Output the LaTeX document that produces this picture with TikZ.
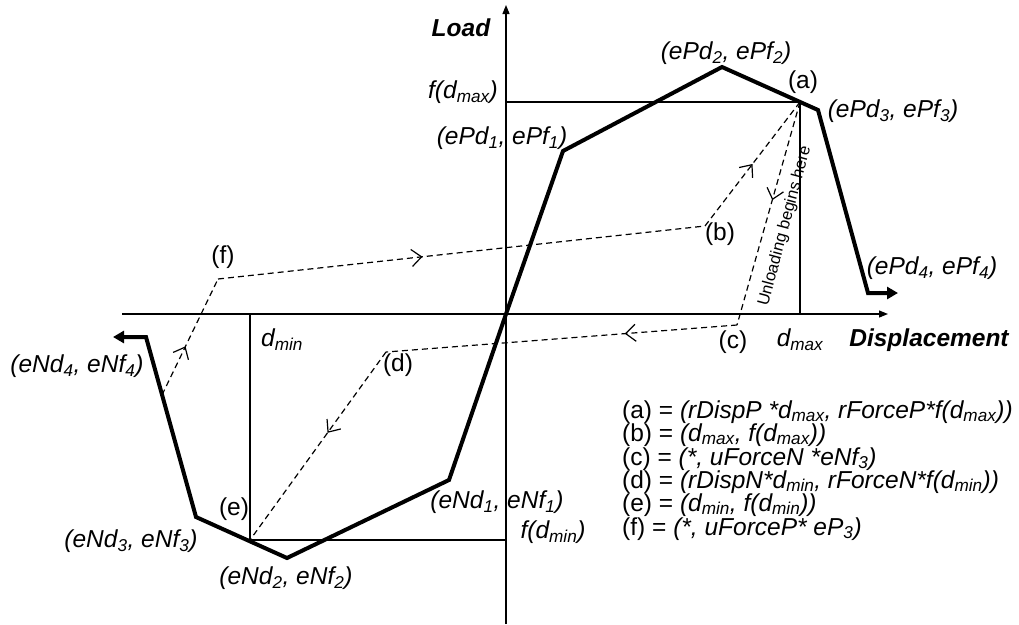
\documentclass[tikz,border=0pt]{standalone}
\usepackage{fontspec}
\setmainfont{Liberation Sans}
\usetikzlibrary{arrows.meta, decorations.markings, positioning}

\tikzset{
  axis/.style={line width=1.2pt, -{Triangle[length=9pt,width=7pt]}},
  guide/.style={line width=1.2pt},
  backbone/.style={line width=4pt, line join=miter,
    {Triangle[length=11pt,width=12pt]}-{Triangle[length=11pt,width=12pt]}},
  cyclepath/.style={line width=1.2pt, dash pattern=on 6pt off 4pt},
  midarrow/.style={postaction={decorate}, decoration={markings,
    mark=at position #1 with {\arrow{Straight Barb[length=10pt,width=17pt,line width=1.2pt]}}}},
  lbl/.style={font=\fontsize{24.5}{24.5}\selectfont\itshape, inner sep=0pt},
  tag/.style={font=\fontsize{24.5}{24.5}\selectfont, inner sep=0pt},
  axlbl/.style={font=\fontsize{24.5}{24.5}\selectfont\bfseries\itshape, inner sep=0pt},
}

\begin{document}
\begin{tikzpicture}[x=1pt, y=-1pt]
	\useasboundingbox[fill=white] (0,0) rectangle (1019,624);
	% axes
	\coordinate (ybot) at (506,624);
	\coordinate (ytop) at (506,5);
	\coordinate (xleft) at (122,314);
	\coordinate (xright) at (888,314);
	\draw[axis] (ybot) -- (ytop);
	\draw[axis] (xleft) -- (xright);
	% backbone points
	\coordinate (N4tip) at (113,337);
	\coordinate (N4) at (146,337);
	\coordinate (N3) at (196,517);
	\coordinate (N2) at (287,558);
	\coordinate (N1) at (449,480);
	\coordinate (O) at (506,314);
	\coordinate (P1) at (563,151);
	\coordinate (P2) at (722,67);
	\coordinate (P3) at (818,110);
	\coordinate (P4) at (868,293);
	\coordinate (P4tip) at (898,293);
	% cycle points
	\coordinate (A) at (800,102);
	\coordinate (B) at (705,226);
	\coordinate (C) at (737,325);
	\coordinate (D) at (386,352);
	\coordinate (E) at (250,540);
	\coordinate (F) at (218,279);
	\coordinate (S) at (162,395);
	\coordinate (fmax) at (506,102);
	\coordinate (dmax) at (800,314);
	\coordinate (dmin) at (250,314);
	\coordinate (fmin) at (506,540);
	% guide lines
	\draw[guide] (fmax) -- (A) -- (dmax);
	\draw[guide] (dmin) -- (E) -- (fmin);
	% backbone
	\draw[backbone] (N4tip) -- (N4) -- (N3) -- (N2) -- (N1) -- (O) -- (P1) -- (P2) -- (P3) -- (P4) -- (P4tip);
	% unloading / reloading path
	\draw[cyclepath, midarrow=0.44] (A) -- (C);
	\draw[cyclepath, midarrow=0.32] (C) -- (D);
	\draw[cyclepath, midarrow=0.43] (D) -- (E);
	\draw[cyclepath, midarrow=0.42] (S) -- (F);
	\draw[cyclepath, midarrow=0.42] (F) -- (B);
	\draw[cyclepath, midarrow=0.5] (B) -- (A);
	% labels
	\node[axlbl] (load) at (461,28) {Load};
	\node[axlbl] (displbl) at (929,340) {Displacement};
	\node[lbl] (fdmaxlbl) at (463,92) {f(d\textsubscript{max})};
	\node[lbl] (fdminlbl) at (553,532) {f(d\textsubscript{min})};
	\node[lbl] (dmaxlbl) at (800,340) {d\textsubscript{max}};
	\node[lbl] (dminlbl) at (282,340) {d\textsubscript{min}};
	\node[lbl] (p1lbl) at (502,138) {(ePd\textsubscript{1}, ePf\textsubscript{1})};
	\node[lbl] (p2lbl) at (726,53) {(ePd\textsubscript{2}, ePf\textsubscript{2})};
	\node[lbl] (p3lbl) at (893,111) {(ePd\textsubscript{3}, ePf\textsubscript{3})};
	\node[lbl] (p4lbl) at (932,268) {(ePd\textsubscript{4}, ePf\textsubscript{4})};
	\node[lbl] (n1lbl) at (497,502) {(eNd\textsubscript{1}, eNf\textsubscript{1})};
	\node[lbl] (n2lbl) at (286,578) {(eNd\textsubscript{2}, eNf\textsubscript{2})};
	\node[lbl] (n3lbl) at (131,541) {(eNd\textsubscript{3}, eNf\textsubscript{3})};
	\node[lbl] (n4lbl) at (77,366) {(eNd\textsubscript{4}, eNf\textsubscript{4})};
	\node[tag] (alab) at (803,82) {(a)};
	\node[tag] (blab) at (720,234) {(b)};
	\node[tag] (clab) at (733,342) {(c)};
	\node[tag] (dlab) at (398,365) {(d)};
	\node[tag] (elab) at (234,509) {(e)};
	\node[tag] (flab) at (223,257) {(f)};
	\node[font=\fontsize{16.5}{16.5}\selectfont, inner sep=0pt, rotate=75] (unload) at (785,226) {Unloading begins here};
	% legend
	\node[tag, anchor=base west] (leg1) at (622,418) {(a) = \textit{(rDispP *d\textsubscript{max}, rForceP*f(d\textsubscript{max}))}};
	\node[tag, anchor=base west] (leg2) at (622,441) {(b) = \textit{(d\textsubscript{max}, f(d\textsubscript{max}))}};
	\node[tag, anchor=base west] (leg3) at (622,465) {(c) = \textit{(*, uForceN *eNf\textsubscript{3})}};
	\node[tag, anchor=base west] (leg4) at (622,488) {(d) = \textit{(rDispN*d\textsubscript{min}, rForceN*f(d\textsubscript{min}))}};
	\node[tag, anchor=base west] (leg5) at (622,511) {(e) = \textit{(d\textsubscript{min}, f(d\textsubscript{min}))}};
	\node[tag, anchor=base west] (leg6) at (622,535) {(f) = \textit{(*, uForceP* eP\textsubscript{3})}};
\end{tikzpicture}
\end{document}
